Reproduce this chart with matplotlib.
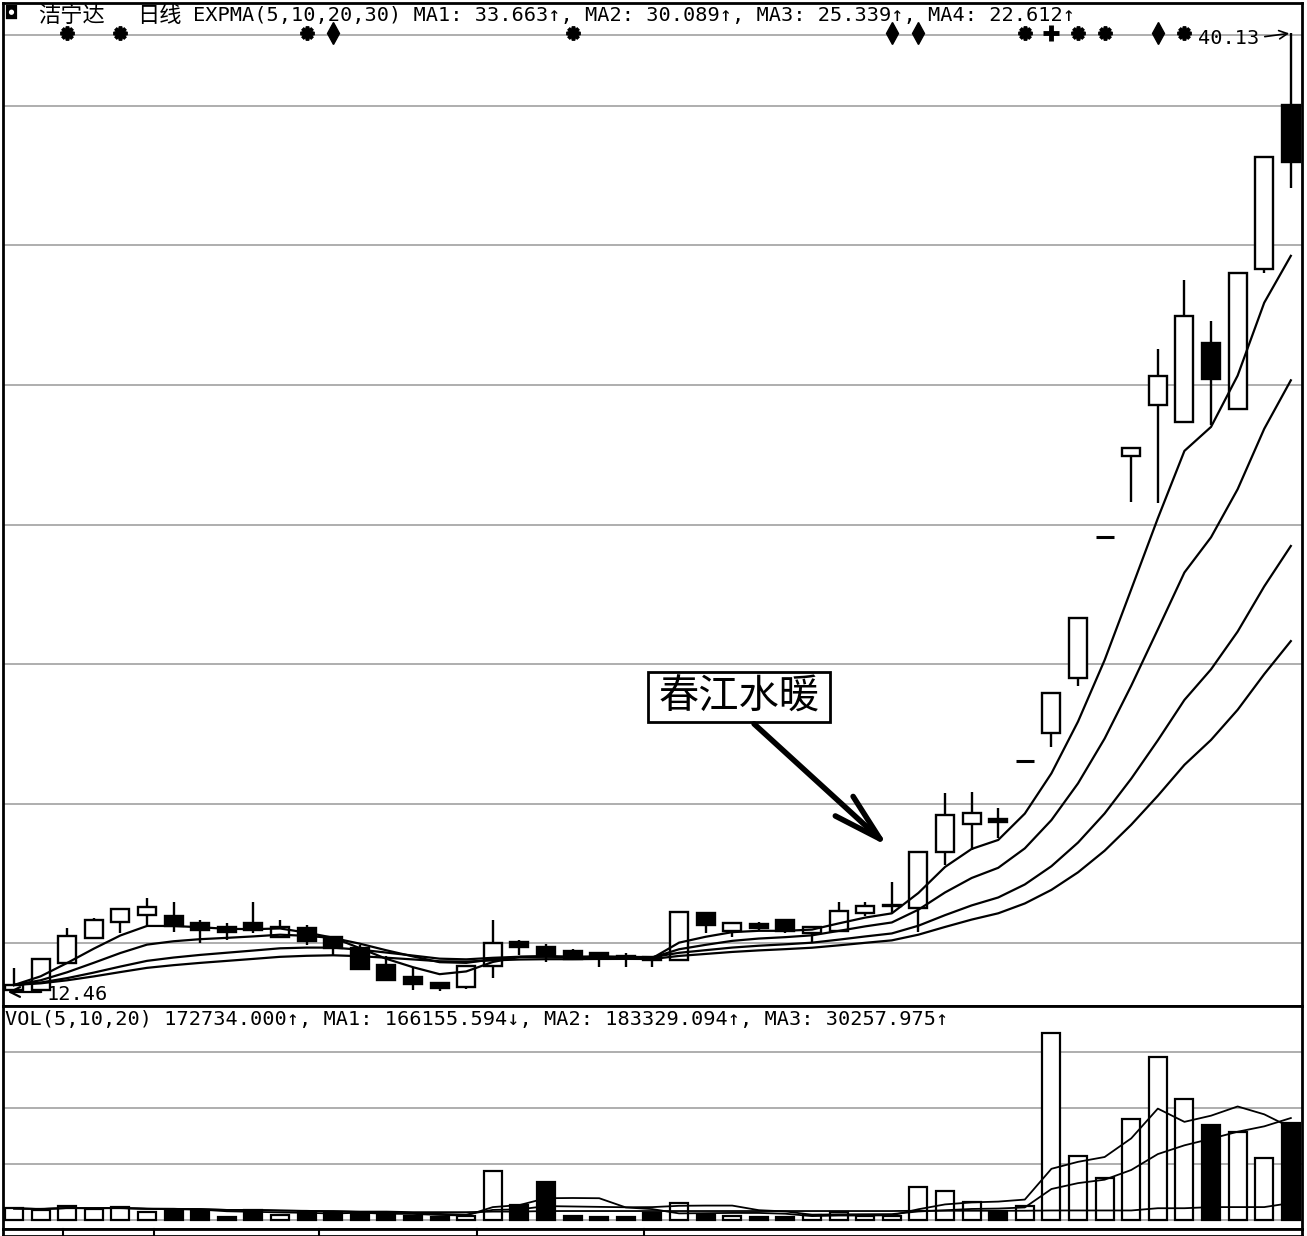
import numpy as np
import pandas as pd
import matplotlib
matplotlib.use("Agg")
import matplotlib.pyplot as plt
from matplotlib.patches import Rectangle, FancyArrowPatch
import matplotlib.transforms as mtransforms

plt.rcParams['font.family'] = ['DejaVu Sans', 'Noto Sans CJK SC']

# ---------------- data ----------------
stock_name = "洁宁达"
period_name = "日线"
ema_periods = [5, 10, 20, 30]
ema_last = ["33.663", "30.089", "25.339", "22.612"]
ema_dirs = ["↑", "↑", "↑", "↑"]
vol_periods = [5, 10, 20]
vol_last = ["172734.000", "166155.594", "183329.094", "30257.975"]
vol_dirs = ["↑", "↓", "↑", "↑"]
low_label = "12.46"
high_label = "40.13"
callout_text = "春江水暖"

opens = [12.55, 12.55, 13.32, 14.05, 14.51, 14.71, 14.68, 14.48, 14.36, 14.48,
         14.07, 14.33, 14.07, 13.76, 13.27, 12.92, 12.75, 12.63, 13.24, 13.93,
         13.79, 13.67, 13.61, 13.53, 13.50, 13.41, 14.77, 14.25, 14.45, 14.56,
         14.19, 14.25, 14.77, 14.97, 14.91, 16.52, 17.33, 17.48, 19.15, 19.95,
         21.54, 25.60, 27.94, 29.41, 28.92, 31.20, 29.29, 33.33, 38.06]
highs = [13.18, 13.44, 14.33, 14.62, 14.88, 15.20, 15.08, 14.56, 14.48, 15.08,
         14.56, 14.42, 14.07, 13.84, 13.53, 13.18, 12.75, 13.24, 14.56, 13.99,
         13.87, 13.73, 13.61, 13.61, 13.50, 14.80, 14.77, 14.51, 14.51, 14.56,
         14.36, 15.08, 15.08, 15.66, 16.52, 18.22, 18.25, 17.79, 19.15, 21.11,
         23.27, 25.60, 28.17, 31.02, 33.01, 31.83, 33.21, 36.56, 40.13]
lows = [12.46, 12.53, 13.32, 14.05, 14.19, 14.36, 14.22, 13.90, 13.99, 14.19,
        14.07, 13.84, 13.56, 13.15, 12.83, 12.55, 12.52, 12.58, 12.89, 13.56,
        13.35, 13.44, 13.21, 13.21, 13.21, 13.41, 14.19, 14.07, 14.28, 14.19,
        13.90, 14.25, 14.68, 14.77, 14.22, 16.15, 16.58, 16.93, 19.15, 19.55,
        21.31, 25.60, 26.61, 26.58, 28.92, 28.83, 29.29, 33.21, 35.66]
closes = [12.69, 13.44, 14.10, 14.56, 14.88, 14.94, 14.39, 14.28, 14.22, 14.28,
          14.36, 13.96, 13.76, 13.15, 12.83, 12.72, 12.60, 13.24, 13.90, 13.79,
          13.56, 13.44, 13.53, 13.47, 13.41, 14.80, 14.42, 14.48, 14.33, 14.25,
          14.36, 14.82, 14.97, 15.00, 16.52, 17.59, 17.65, 17.39, 19.15, 21.11,
          23.27, 25.60, 28.17, 30.24, 31.97, 30.16, 33.21, 36.56, 36.41]
volumes = [21000, 18000, 25000, 20000, 23000, 14000, 18000, 18000, 5000, 18000,
           9000, 14000, 12000, 12000, 9000, 7000, 5000, 7000, 87000, 27000,
           68000, 7000, 5000, 5000, 12000, 30000, 9000, 7000, 5000, 5000,
           9000, 14000, 7000, 7000, 59000, 52000, 32000, 14000, 25000, 333000,
           114000, 75000, 180000, 290000, 215000, 169000, 157000, 110000, 172734]
vol_ma3 = [20000, 20000, 21000, 21000, 21000, 20000, 19000, 19000, 18000, 18000,
           17000, 16000, 16000, 15000, 15000, 14000, 14000, 14000, 15000, 15000,
           16000, 16000, 16000, 16000, 16000, 16000, 16000, 16000, 16000, 16000,
           16000, 16000, 16000, 16000, 16500, 16500, 16500, 16500, 16500, 17000,
           17000, 17000, 17000, 21000, 21000, 23000, 23000, 23000, 30258]
price_grid = [13.90, 17.91, 21.94, 25.95, 29.98, 34.02, 38.03, 40.07]
vol_grid = [0, 100000, 200000, 300000]
event_days = [2, 4, 11, 12, 21, 33, 34, 38, 39, 40, 41, 43, 44]
event_kinds = ['star', 'star', 'star', 'dia', 'star', 'dia', 'dia', 'star',
               'plus', 'star', 'star', 'dia', 'star']

# ---------------- layout ----------------
W, H = 1307, 1236
fig = plt.figure(figsize=(W / 100, H / 100), dpi=100)
fig.patch.set_facecolor('white')


def rect(x0, y0, x1, y1):
    return [x0 / W, 1 - y1 / H, (x1 - x0) / W, (y1 - y0) / H]


def fpt(px, py):
    return (px / W, 1 - py / H)


ax_p = fig.add_axes(rect(3, 3, 1302, 1006))
ax_v = fig.add_axes(rect(3, 1006, 1302, 1229))
ax_b = fig.add_axes(rect(3, 1229, 1302, 1236))

n = len(closes)
x = np.arange(n)
XL = (-0.414, 48.42)
for ax in (ax_p, ax_v, ax_b):
    ax.set_xlim(*XL)
    ax.set_xticks([])
    ax.set_yticks([])
    for s in ax.spines.values():
        s.set_color('black')
        s.set_linewidth(2.0)

ax_p.set_ylim(12.085, 40.995)
ax_v.set_ylim(-16000, 381100)
ax_b.set_ylim(0, 1)

GRID = '#a8a8a8'
for g in price_grid:
    ax_p.axhline(g, color=GRID, lw=1.3, zorder=0)
for g in vol_grid:
    ax_v.axhline(g, color=GRID, lw=1.3, zorder=0)

# candles
BW = 0.68
up = [c >= o for o, c in zip(opens, closes)]
for i in range(n):
    o, h, l, c = opens[i], highs[i], lows[i], closes[i]
    ax_p.vlines(i, l, h, color='black', lw=1.7, zorder=2)
    if abs(c - o) < 1e-9:
        ax_p.hlines(c, i - BW / 2, i + BW / 2, color='black', lw=2.2, zorder=3)
    else:
        ax_p.add_patch(Rectangle((i - BW / 2, min(o, c)), BW, abs(c - o),
                                 facecolor='white' if up[i] else 'black',
                                 edgecolor='black', lw=1.7, zorder=3))

cs = pd.Series(closes)
for p in ema_periods:
    ax_p.plot(x, cs.ewm(span=p, adjust=False).mean(), color='black', lw=1.6, zorder=4)

# event markers on the top line
trans = mtransforms.blended_transform_factory(ax_p.transData, ax_p.transAxes)
ym = (1006 - 33) / 1003
for d, k in zip(event_days, event_kinds):
    if k == 'star':
        ax_p.plot(d, ym, marker=(8, 2, 0), ms=10, mew=2.6, color='black',
                  transform=trans, clip_on=False, zorder=6)
    elif k == 'dia':
        ax_p.plot(d, ym, marker='d', ms=11, color='black',
                  transform=trans, clip_on=False, zorder=6)
    else:
        ax_p.plot(d, ym, marker='+', ms=12, mew=3.5, color='black',
                  transform=trans, clip_on=False, zorder=6)

# volume
ax_v.bar(x, volumes, width=BW, color=['white' if u else 'black' for u in up],
         edgecolor='black', lw=1.6, zorder=3)
vs = pd.Series(volumes)
for p in vol_periods[:2]:
    ax_v.plot(x, vs.rolling(p, min_periods=1).mean(), color='black', lw=1.3, zorder=4)
ax_v.plot(x, vol_ma3, color='black', lw=1.3, zorder=4)

# bottom strip ticks
for tx in [63, 154, 319, 477, 644]:
    fig.add_artist(plt.Line2D([tx / W, tx / W], [0, 7 / H], color='black', lw=1.5,
                              transform=fig.transFigure))

# header texts
MONO = ['DejaVu Sans Mono', 'Noto Sans CJK SC']
fig.text(*fpt(5, 14), '◘', fontsize=13, family=MONO, va='center', ha='left')
fig.text(*fpt(38, 15), stock_name, fontsize=16, family=['Noto Sans CJK SC'], va='center', ha='left')
fig.text(*fpt(137, 15), period_name, fontsize=16, family=['Noto Sans CJK SC'], va='center', ha='left')
hdr = "EXPMA(" + ",".join(str(p) for p in ema_periods) + ") " + ", ".join(
    f"MA{i + 1}: {v}{d}" for i, (v, d) in enumerate(zip(ema_last, ema_dirs)))
fig.text(*fpt(193, 15), hdr, fontsize=14.6, family=MONO, va='center', ha='left')
vhdr = "VOL(" + ",".join(str(p) for p in vol_periods) + ") " + vol_last[0] + vol_dirs[0] + ", " + ", ".join(
    f"MA{i}: {vol_last[i]}{vol_dirs[i]}" for i in range(1, 4))
fig.text(*fpt(5, 1020), vhdr, fontsize=14.6, family=MONO, va='center', ha='left')

# low / high labels
fig.text(*fpt(47, 994), low_label, fontsize=14.6, family=MONO, va='center', ha='left')
fig.add_artist(FancyArrowPatch(fpt(44, 992), fpt(5, 992), transform=fig.transFigure,
                               arrowstyle='->,head_length=0.7,head_width=0.35',
                               mutation_scale=10, lw=1.6, color='black'))
fig.text(*fpt(1259, 39), high_label, fontsize=14.6, family=MONO, va='center', ha='right')
fig.add_artist(FancyArrowPatch(fpt(1262, 37), fpt(1292, 33), transform=fig.transFigure,
                               arrowstyle='->,head_length=0.6,head_width=0.3',
                               mutation_scale=10, lw=1.2, color='black'))

# callout
fig.add_artist(Rectangle(fpt(648, 722), 182 / W, 50 / H, transform=fig.transFigure,
                         facecolor='white', edgecolor='black', lw=2.0, zorder=10))
fig.text(*fpt(739, 697), callout_text, fontsize=29, family=['Noto Sans CJK SC'],
         ha='center', va='center', zorder=11)
fig.add_artist(FancyArrowPatch(fpt(752, 722), fpt(890, 848), transform=fig.transFigure,
                               arrowstyle='->,head_length=3.5,head_width=0.95',
                               mutation_scale=10, lw=4, color='black', zorder=10))

fig.savefig('out.png', dpi=100, facecolor='white')
